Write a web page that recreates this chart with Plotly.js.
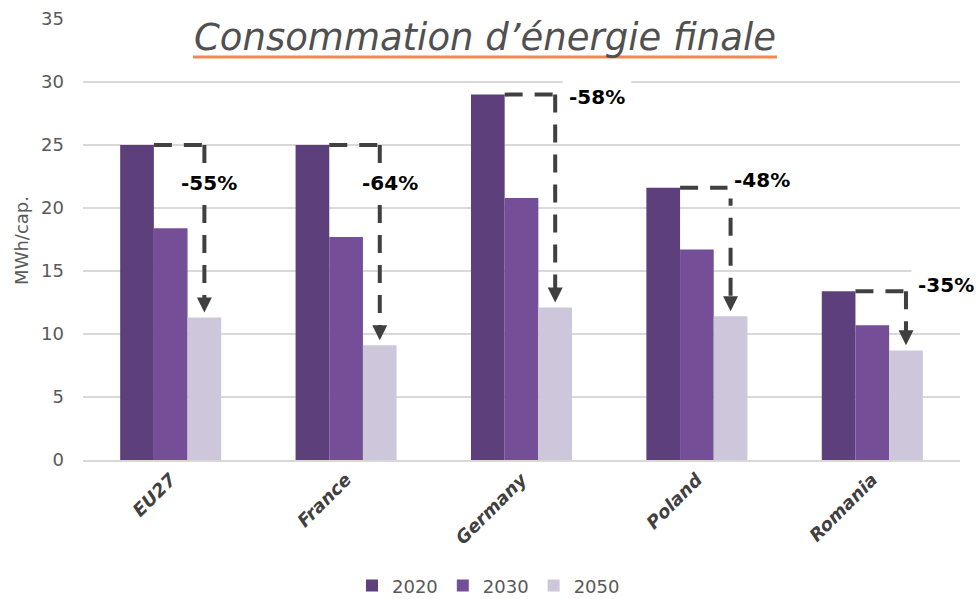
<!DOCTYPE html>
<html>
<head>
<meta charset="utf-8">
<script src="https://cdn.plot.ly/plotly-3.0.1.min.js"></script>
<style>html,body{margin:0;padding:0;background:#fff;}#chart{width:977px;height:599px;}</style>
</head>
<body>
<div id="chart"></div>
<script>
const categories = ["EU27", "France", "Germany", "Poland", "Romania"];
const values2020 = [25.0, 25.0, 29.0, 21.6, 13.4];
const values2030 = [18.4, 17.7, 20.8, 16.7, 10.7];
const values2050 = [11.3, 9.1, 12.1, 11.4, 8.7];
const reductions = ["-55%", "-64%", "-58%", "-48%", "-35%"];
const labelX = [0.22, 0.25, 0.43, 0.37, 0.42];
const labelY = [22.0, 22.0, 28.8, 22.2, 13.9];
const yearNames = ["2020", "2030", "2050"];
const colors = ["#5D3F7B", "#744F97", "#CEC7DB"];

const series = [values2020, values2030, values2050];
const traces = series.map((vals, k) => ({
  type: "bar",
  name: yearNames[k],
  x: categories,
  y: vals,
  marker: {color: colors[k]},
  hoverinfo: "x+y+name"
}));

const bargap = 0.424;
const bw = (1 - bargap) / 3;
const shapes = [];
const annotations = [];
const dash = {color: "#404040", width: 4, dash: "18px,12px"};
categories.forEach((c, i) => {
  const xs = i - bw / 2;
  const xe = i + bw;
  shapes.push({type: "line", xref: "x", yref: "y", x0: xs, x1: xe, y0: values2020[i], y1: values2020[i], line: dash, layer: "above"});
  shapes.push({type: "line", xref: "x", yref: "y", x0: xe, x1: xe, y0: values2020[i], y1: values2050[i] + 1.5, line: dash, layer: "above"});
  annotations.push({
    xref: "x", yref: "y", x: xe, y: values2050[i] + 0.4,
    ax: 0, ay: -14, axref: "pixel", ayref: "pixel",
    showarrow: true, arrowhead: 2, arrowsize: 1, arrowwidth: 3, arrowcolor: "#404040", text: ""
  });
  annotations.push({
    xref: "x", yref: "y", x: i + labelX[i], y: labelY[i],
    text: reductions[i], showarrow: false,
    font: {family: "DejaVu Sans", size: 20, color: "#000000", weight: "bold"},
    bgcolor: "#ffffff", borderpad: 6
  });
});

annotations.push({
  xref: "paper", yref: "paper", x: 0.458, y: 0.957,
  text: "Consommation d’énergie finale", showarrow: false,
  font: {family: "DejaVu Sans", size: 37, color: "#505050", style: "italic"},
  xanchor: "center", yanchor: "middle"
});
annotations.push({
  xref: "paper", yref: "paper", x: -0.0696, y: 0.499,
  text: "MWh/cap.", showarrow: false, textangle: -90,
  font: {family: "DejaVu Sans", size: 18, color: "#595959"},
  xanchor: "center", yanchor: "middle"
});
shapes.push({type: "line", xref: "paper", yref: "paper", x0: 0.1254, x1: 0.7913, y0: 0.914, y1: 0.914, line: {color: "#F4894F", width: 3}});

const layout = {
  width: 977, height: 599,
  margin: {l: 83, r: 17, t: 19, b: 139},
  paper_bgcolor: "#ffffff", plot_bgcolor: "#ffffff",
  barmode: "group", bargap: bargap, bargroupgap: 0,
  font: {family: "DejaVu Sans", color: "#595959"},
  xaxis: {
    type: "category", tickangle: -45, automargin: false, range: [-0.5, 4.5], autorange: false,
    tickfont: {family: "DejaVu Sans", size: 18, color: "#404040", weight: "bold", style: "italic"},
    showline: true, linecolor: "#D9D9D9", linewidth: 2, ticks: "", showgrid: false, zeroline: false
  },
  yaxis: {
    range: [0, 35], autorange: false, dtick: 5, showgrid: true, gridcolor: "#D9D9D9", gridwidth: 1.5, automargin: false,
    zeroline: false, showline: false, ticks: "", ticklabelstandoff: 18,
    tickfont: {family: "DejaVu Sans", size: 18, color: "#595959"}
  },
  legend: {
    orientation: "h", xref: "container", yref: "container",
    x: 0.5, xanchor: "center", y: 0.022, yanchor: "middle",
    font: {family: "DejaVu Sans", size: 18, color: "#595959"}, itemwidth: 30
  },
  shapes: shapes,
  annotations: annotations,
  showlegend: true
};

Plotly.newPlot("chart", traces, layout, {displayModeBar: false});
</script>
</body>
</html>
